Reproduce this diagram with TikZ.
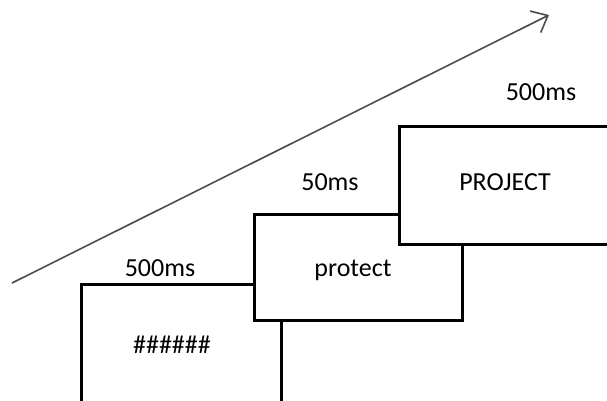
\documentclass[tikz,border=0pt]{standalone}
\usepackage{fontspec}
\setmainfont{Carlito}
\usetikzlibrary{arrows.meta}
\begin{document}
\begin{tikzpicture}[x=1pt,y=-1pt,
  stim/.style={draw=black,line width=3pt,fill=white,anchor=north west,inner sep=0pt},
  lbl/.style={font=\fontsize{26}{30}\selectfont,inner sep=0pt,text=black},
  timeline/.style={draw=black!70,line width=1.6pt,-{Straight Barb[length=14pt,width=24pt,line width=1.6pt]}}]
\useasboundingbox (0,0) rectangle (607,400);
\clip (0,0) rectangle (607,400);
\coordinate (ts) at (12,283);
\coordinate (te) at (549,15);
\draw[timeline] (ts) -- (te);
\node[stim,minimum width=200pt,minimum height=140pt] (b1) at (80,283) {};
\node[stim,minimum width=208pt,minimum height=106pt] (b2) at (253,213) {};
\node[stim,minimum width=230pt,minimum height=118pt] (b3) at (398,125) {};
\node[lbl] (t1) at (172,345) {\#\#\#\#\#\#};
\node[lbl] (t2) at (353,270) {protect};
\node[lbl] (t3) at (505,182) {PROJECT};
\node[lbl] (d1) at (160,268) {500ms};
\node[lbl] (d2) at (330,182) {50ms};
\node[lbl] (d3) at (541,92) {500ms};
\end{tikzpicture}
\end{document}
